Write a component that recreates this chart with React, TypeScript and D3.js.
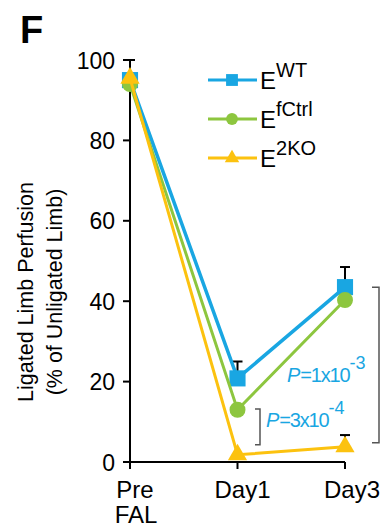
import React from "react";
import * as d3 from "d3";

const timepoints = ["Pre", "Day1", "Day3"];
const seriesNames = ["WT", "fCtrl", "2KO"];
const wtValues = [95, 20.8, 43.5];
const fctrlValues = [94, 13, 40.3];
const ko2Values = [95.5, 1.8, 3.8];
const wtErrors = [5, 4.2, 5];
const fctrlErrors = [0, 0, 0];
const ko2Errors = [0, 0, 2.9];
const yTicks = [0, 20, 40, 60, 80, 100];

const FONT = "Liberation Sans, Arial, Helvetica, sans-serif";
const COLORS: Record<string, string> = { WT: "#19a6e2", fCtrl: "#8dc63f", "2KO": "#fcc20f" };
const SYMBOLS: Record<string, d3.SymbolType> = {
  WT: d3.symbolSquare,
  fCtrl: d3.symbolCircle,
  "2KO": d3.symbolTriangle,
};

export default function App() {
  const W = 391;
  const H = 529;
  const y = d3.scaleLinear().domain([0, 100]).range([462, 60]);
  const x = d3.scalePoint<string>().domain(timepoints).range([130, 345]);

  const series = [
    { name: "WT", values: wtValues, errs: wtErrors },
    { name: "fCtrl", values: fctrlValues, errs: fctrlErrors },
    { name: "2KO", values: ko2Values, errs: ko2Errors },
  ];

  const line = d3
    .line<number>()
    .x((_, i) => x(timepoints[i]) as number)
    .y((d) => y(d));

  const markerSize: Record<string, number> = { WT: 260, fCtrl: 200, "2KO": 160 };
  const legendSize: Record<string, number> = { WT: 140, fCtrl: 110, "2KO": 90 };

  return (
    <svg
      width={W}
      height={H}
      style={{ position: "absolute", left: 0, top: 0, background: "#fff" }}
      fontFamily={FONT}
    >
      <text x={20} y={43} fontSize={38} fontWeight="bold">F</text>

      {/* y axis label */}
      <g transform="translate(33,292) rotate(-90)" fontSize={21.5} textAnchor="middle">
        <text x={0} y={0}>Ligated Limb Perfusion</text>
        <text x={0} y={29}>(% of Unligated Limb)</text>
      </g>

      {/* axes */}
      <line x1={130} x2={130} y1={y(100)} y2={y(0)} stroke="#000" strokeWidth={2} />
      <line x1={123} x2={x("Day3")} y1={y(0)} y2={y(0)} stroke="#000" strokeWidth={2} />
      {yTicks.map((t) => (
        <g key={t}>
          <line x1={123} x2={130} y1={y(t)} y2={y(t)} stroke="#000" strokeWidth={2} />
          <text x={115} y={y(t) + 8.5} fontSize={23} textAnchor="end">{t}</text>
        </g>
      ))}
      {timepoints.map((t) => (
        <line key={t} x1={x(t)} x2={x(t)} y1={y(0)} y2={y(0) + 7} stroke="#000" strokeWidth={2} />
      ))}
      <g fontSize={24} textAnchor="middle">
        <text x={(x("Pre") as number) + 5} y={498}>Pre</text>
        <text x={(x("Pre") as number) + 6} y={523}>FAL</text>
        <text x={(x("Day1") as number) + 5} y={498}>Day1</text>
        <text x={(x("Day3") as number) + 7} y={498}>Day3</text>
      </g>

      {/* error bars */}
      {series.map((s) =>
        s.values.map((v, i) =>
          s.errs[i] > 0 ? (
            <g key={s.name + i} stroke="#000" strokeWidth={2}>
              <line x1={x(timepoints[i])} x2={x(timepoints[i])} y1={y(v)} y2={y(v + s.errs[i])} />
              <line
                x1={(x(timepoints[i]) as number) - 5}
                x2={(x(timepoints[i]) as number) + 5}
                y1={y(v + s.errs[i])}
                y2={y(v + s.errs[i])}
              />
            </g>
          ) : null
        )
      )}

      {/* lines and markers */}
      {series.map((s) => (
        <g key={s.name}>
          <path d={line(s.values) as string} fill="none" stroke={COLORS[s.name]} strokeWidth={s.name === "WT" ? 3.5 : 3} />
          {s.values.map((v, i) => (
            <path
              key={i}
              transform={`translate(${x(timepoints[i])},${y(v)})`}
              d={d3.symbol().type(SYMBOLS[s.name]).size(markerSize[s.name])() as string}
              fill={COLORS[s.name]}
            />
          ))}
        </g>
      ))}

      {/* significance brackets */}
      <path d={`M372,${y(43.5)} H379 V${y(4.8)} H372`} fill="none" stroke="#555" strokeWidth={1.5} />
      <path d={`M255,${y(13.2)} H260 V${y(4.3)} H255`} fill="none" stroke="#555" strokeWidth={1.5} />
      <text x={287} y={382} fontSize={20} fill={COLORS.WT}>
        <tspan fontStyle="italic">P</tspan>
        <tspan letterSpacing={-1.2}>=1x10</tspan>
        <tspan dy={-13} fontSize={18}>-3</tspan>
      </text>
      <text x={266} y={427} fontSize={20} fill={COLORS.WT}>
        <tspan fontStyle="italic">P</tspan>
        <tspan letterSpacing={-1.2}>=3x10</tspan>
        <tspan dy={-13} fontSize={18}>-4</tspan>
      </text>

      {/* legend */}
      {seriesNames.map((n, i) => {
        const ly = 80 + i * 39;
        return (
          <g key={n}>
            <line x1={208} x2={257} y1={ly} y2={ly} stroke={COLORS[n]} strokeWidth={3} />
            <path
              transform={`translate(232,${ly})`}
              d={d3.symbol().type(SYMBOLS[n]).size(legendSize[n])() as string}
              fill={COLORS[n]}
            />
            <text x={260} y={ly + 9} fontSize={24}>
              E
              <tspan dy={-12} fontSize={20}>{n}</tspan>
            </text>
          </g>
        );
      })}
    </svg>
  );
}
